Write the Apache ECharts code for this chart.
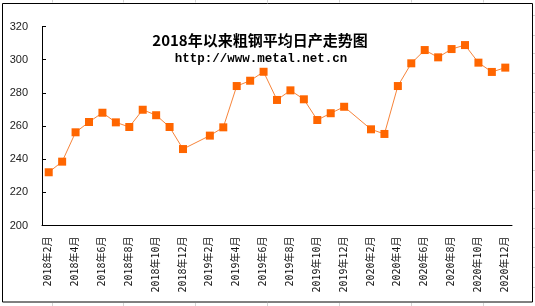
<!DOCTYPE html>
<html>
<head>
<meta charset="utf-8">
<script src="https://cdn.jsdelivr.net/npm/echarts@6/dist/echarts.min.js"></script>
<style>html,body{margin:0;padding:0;background:#fff;}#c{width:535px;height:306px;}</style>
</head>
<body>
<div id="c"></div>
<script>
var categories = [
  '2018年2月','2018年3月','2018年4月','2018年5月','2018年6月','2018年7月','2018年8月','2018年9月','2018年10月','2018年11月','2018年12月',
  '2019年1月','2019年2月','2019年3月','2019年4月','2019年5月','2019年6月','2019年7月','2019年8月','2019年9月','2019年10月','2019年11月','2019年12月',
  '2020年1月','2020年2月','2020年3月','2020年4月','2020年5月','2020年6月','2020年7月','2020年8月','2020年9月','2020年10月','2020年11月','2020年12月'
];
var output = [
  232.1, 238.5, 256.2, 262.4, 268.0, 262.2, 259.4, 269.8, 266.5, 259.4, 246.1,
  null, 254.2, 259.2, 284.1, 287.3, 292.7, 275.7, 281.5, 276.1, 263.6, 267.7, 271.6,
  null, 258.0, 255.2, 284.1, 297.8, 305.8, 301.4, 306.4, 308.8, 298.2, 292.6, 295.2
];
var yTicks = [200, 220, 240, 260, 280, 300, 320];
var titleText = '2018年以来粗钢平均日产走势图';
var subtitleText = 'http://www.metal.net.cn';

var chart = echarts.init(document.getElementById('c'));
var gridLines = [];
[52,123,195,267,339,411,483].forEach(function(x){
  gridLines.push({type:'line', silent:true, shape:{x1:x+0.5,y1:0,x2:x+0.5,y2:2.5}, style:{stroke:'#d4d4d4',lineWidth:1}});
  gridLines.push({type:'line', silent:true, shape:{x1:x+0.5,y1:303,x2:x+0.5,y2:306}, style:{stroke:'#d4d4d4',lineWidth:1}});
});
[15,35,53,73,92,112,132,150,170,190,208,228,247,267,287].forEach(function(y){
  gridLines.push({type:'line', silent:true, shape:{x1:533,y1:y+0.5,x2:535,y2:y+0.5}, style:{stroke:'#d4d4d4',lineWidth:1}});
});
chart.setOption({
  animation: false,
  backgroundColor: '#fff',
  grid: {left: 42, right: 23, top: 26.5, bottom: 80.5, containLabel: false},
  xAxis: {
    type: 'category',
    data: categories,
    boundaryGap: true,
    axisLine: {lineStyle: {color: '#000', width: 1}},
    axisTick: {inside: true, length: 4, interval: 1, alignWithLabel: false, lineStyle: {color: '#000'}},
    axisLabel: {interval: 1, rotate: 90, margin: 11, fontSize: 10, color: '#111', fontFamily: '"DejaVu Sans Mono", "Noto Sans CJK SC"'},
    splitLine: {show: false}
  },
  yAxis: {
    type: 'value',
    min: yTicks[0],
    max: yTicks[yTicks.length - 1],
    interval: 20,
    axisLine: {show: true, lineStyle: {color: '#000', width: 1}},
    axisTick: {show: true, inside: true, length: 4, lineStyle: {color: '#000'}},
    axisLabel: {margin: 14, fontSize: 11, color: '#222', fontFamily: 'Liberation Sans'},
    splitLine: {show: false}
  },
  series: [{
    type: 'line',
    data: output,
    connectNulls: true,
    symbol: 'rect',
    symbolSize: 8,
    itemStyle: {color: '#ff6600'},
    lineStyle: {color: '#f7843a', width: 1}
  }],
  graphic: [
    {type:'rect', silent:true, z:-1, shape:{x:2.5,y:3.5,width:530,height:298.5}, style:{fill:'none',stroke:'#000',lineWidth:1}},
    {type:'text', silent:true, style:{text:titleText, x:260, y:40, textAlign:'center', textVerticalAlign:'middle', font:'bold 15px "Noto Sans CJK SC"', fill:'#000'}},
    {type:'text', silent:true, style:{text:subtitleText, x:261, y:59, textAlign:'center', textVerticalAlign:'middle', font:'bold 12.5px "Liberation Mono"', fill:'#000'}}
  ].concat(gridLines)
});
</script>
</body>
</html>
